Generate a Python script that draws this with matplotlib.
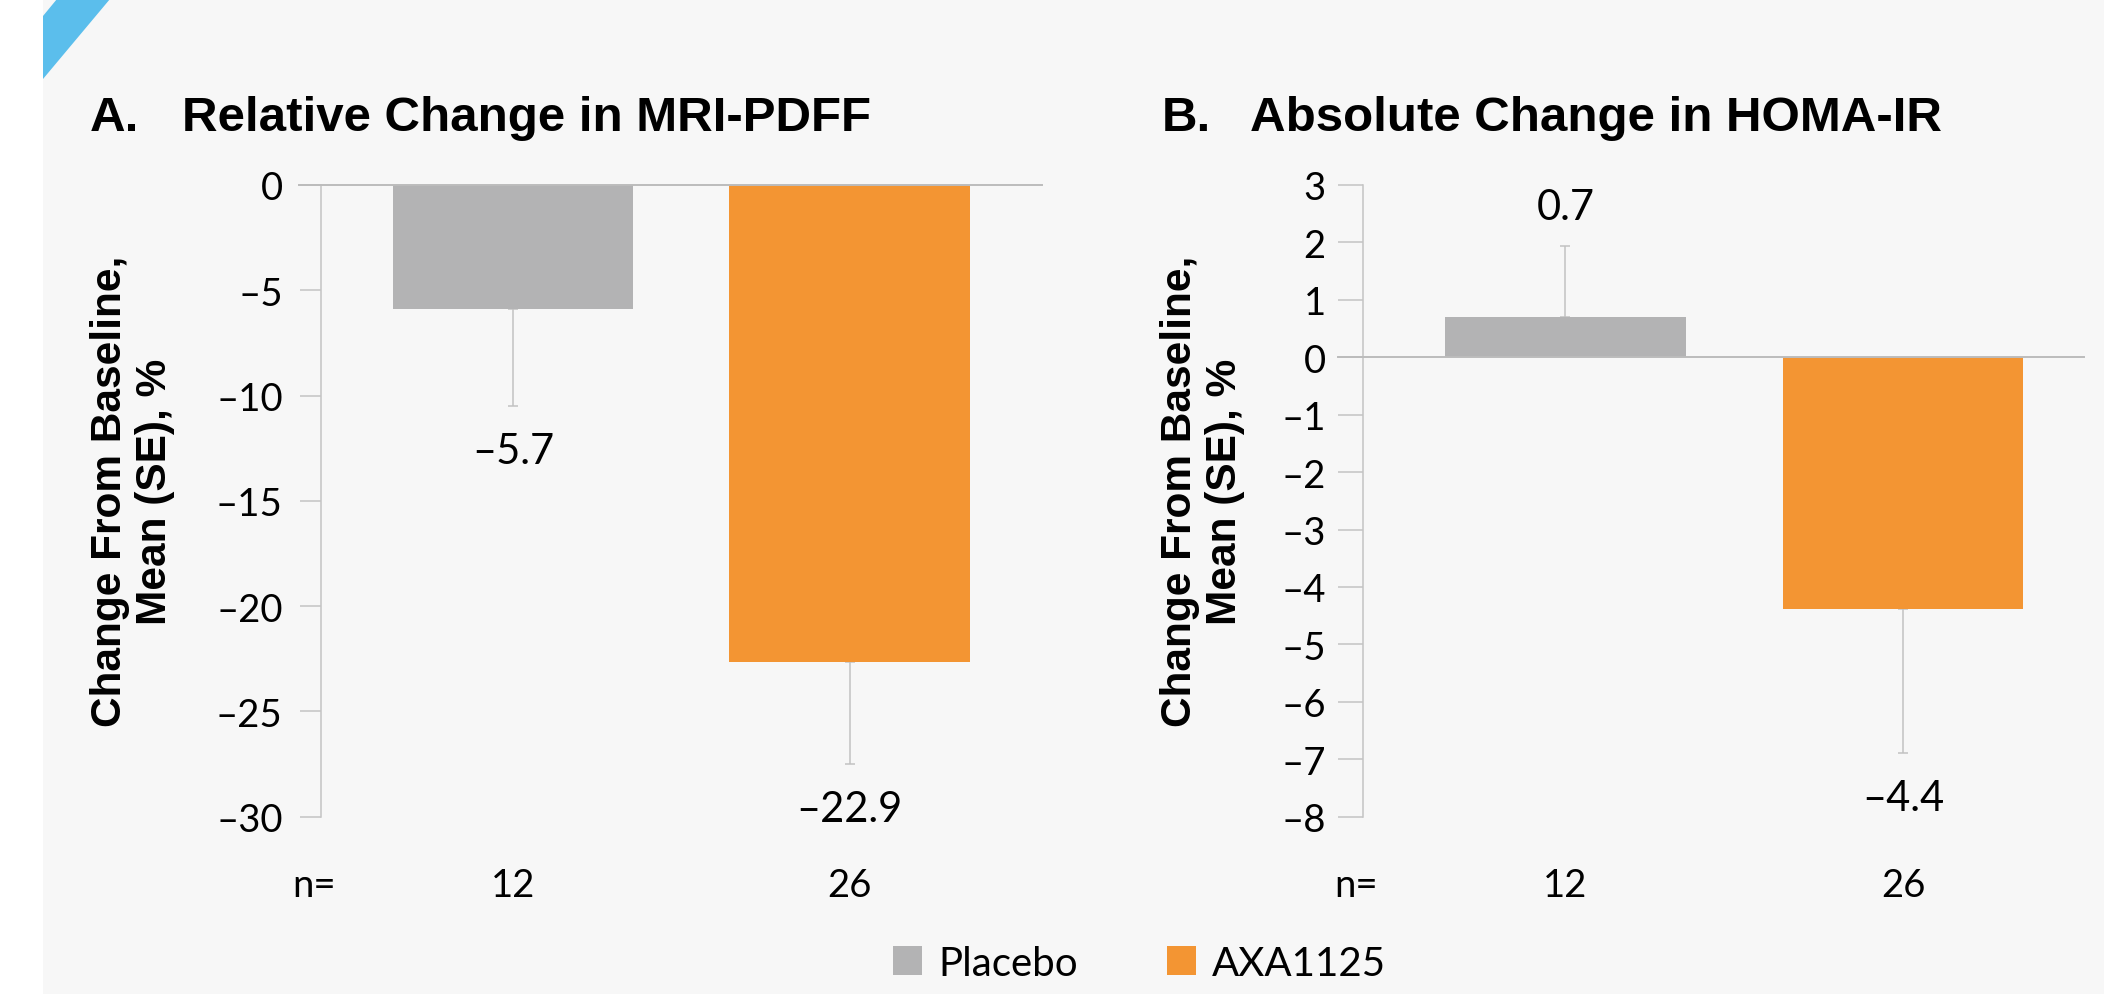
import matplotlib
matplotlib.use("Agg")
import matplotlib.pyplot as plt
from matplotlib.patches import Rectangle, Polygon
from matplotlib.transforms import blended_transform_factory
from matplotlib.ticker import FixedLocator, FuncFormatter

# ---------------- data ----------------
groups = ["Placebo", "AXA1125"]
n_counts = ["12", "26"]
group_colors = ["#b3b3b4", "#f39533"]

panel_letters = ["A.", "B."]
panel_titles = ["Relative Change in MRI-PDFF", "Absolute Change in HOMA-IR"]
ylabel_text = "Change From Baseline,\nMean (SE), %"

pdff_mean = [-5.88, -22.67]
pdff_se = [4.6, 4.82]
pdff_labels = ["–5.7", "–22.9"]
pdff_ticks = [0, -5, -10, -15, -20, -25, -30]

homa_mean = [0.71, -4.39]
homa_se = [1.22, 2.5]
homa_labels = ["0.7", "–4.4"]
homa_ticks = [3, 2, 1, 0, -1, -2, -3, -4, -5, -6, -7, -8]

# ---------------- style ----------------
W, H = 2104, 995
BG = "#f7f7f7"
AXCOL = "#c4c4c4"
TXT = "#000000"
LIGHT = ["Lato", "DejaVu Sans"]
BOLD = ["Liberation Sans", "DejaVu Sans"]
NUMW = "normal"

plt.rcParams["font.family"] = LIGHT

fig = plt.figure(figsize=(W / 100, H / 100), dpi=100, facecolor=BG)

def fx(px):
    return px / W

def fy(py):
    return 1 - py / H

# decorative left strip and blue corner stripe
fig.patches.append(Rectangle((0, 0), fx(43), 1, transform=fig.transFigure,
                             facecolor="white", edgecolor="none", zorder=0))
fig.patches.append(Polygon([(fx(57), fy(0)), (fx(110), fy(0)), (fx(43), fy(80)), (fx(43), fy(17))],
                           closed=True, transform=fig.transFigure,
                           facecolor="#5bbeec", edgecolor="none", zorder=1))

panels = [
    dict(rect=(320.5, 1042.0), xlim=(-0.572, 1.572), width=0.715, mean=pdff_mean, se=pdff_se,
         labels=pdff_labels, ticks=pdff_ticks, ylim=(-30, 0), ticklen=15.2, pad=12.0,
         letter_x=89.4, title_x=182.0, ylabel_x=132.5),
    dict(rect=(1363.0, 2084.0), xlim=(-0.599, 1.536), width=0.712, mean=homa_mean, se=homa_se,
         labels=homa_labels, ticks=homa_ticks, ylim=(-8, 3), ticklen=18.3, pad=8.5,
         letter_x=1161.4, title_x=1249.8, ylabel_x=1202.5),
]

top_px, bot_px = 186.0, 817.7

for i, p in enumerate(panels):
    left, right = p["rect"]
    ax = fig.add_axes([fx(left), fy(bot_px), (right - left) / W, (bot_px - top_px) / H])
    ax.set_facecolor("none")
    xs = list(range(len(groups)))
    ax.bar(xs, p["mean"], width=p["width"], color=group_colors, zorder=2)
    lo = [s if m < 0 else 0 for m, s in zip(p["mean"], p["se"])]
    hi = [s if m >= 0 else 0 for m, s in zip(p["mean"], p["se"])]
    ax.errorbar(xs, p["mean"], yerr=[lo, hi], fmt="none", ecolor="#c2c2c2",
                elinewidth=1.1, capsize=3.3, capthick=1.1, zorder=1)
    ax.set_xlim(*p["xlim"])
    ax.set_ylim(*p["ylim"])
    ax.axhline(0, xmin=-p["ticklen"] * 100 / 72 / (right - left), xmax=1,
               color="#bcbcbc", lw=1.4, clip_on=False, zorder=4)
    for s in ["top", "right", "bottom"]:
        ax.spines[s].set_visible(False)
    ax.spines["left"].set_color(AXCOL)
    ax.spines["left"].set_linewidth(1.1)
    ax.set_xticks([])
    ax.yaxis.set_major_locator(FixedLocator(p["ticks"]))
    ax.yaxis.set_major_formatter(FuncFormatter(lambda v, pos: f"{v:g}".replace("-", "–")))
    ax.tick_params(axis="y", length=p["ticklen"], width=1.1, color=AXCOL, pad=p["pad"],
                   labelsize=27.5, labelcolor=TXT)
    for t in ax.get_yticklabels():
        t.set_fontweight(NUMW)

    # value labels
    for x, m, s, lab in zip(xs, p["mean"], p["se"], p["labels"]):
        if m < 0:
            ax.annotate(lab, xy=(x, m - s), xytext=(0, -41), textcoords="offset points",
                        ha="center", va="baseline", fontsize=30, fontweight=NUMW, color=TXT)
        else:
            ax.annotate(lab, xy=(x, m + s), xytext=(0, 20), textcoords="offset points",
                        ha="center", va="baseline", fontsize=30, fontweight=NUMW, color=TXT)

    # n row
    tr = blended_transform_factory(ax.transData, ax.transAxes)
    ny = -(896.7 - bot_px) / (bot_px - top_px)
    ax.text(-0.009, ny, "n=", transform=ax.transAxes, ha="center", va="baseline",
            fontsize=27.5, fontweight=NUMW, color=TXT)
    for x, n in zip(xs, n_counts):
        ax.text(x, ny, n, transform=tr, ha="center", va="baseline",
                fontsize=27.5, fontweight=NUMW, color=TXT)

    # titles
    fig.text(fx(p["letter_x"]), fy(130.7), panel_letters[i], ha="left", va="baseline",
             fontsize=35.5, fontweight="bold", family=BOLD, color=TXT)
    fig.text(fx(p["title_x"]), fy(130.7), panel_titles[i], ha="left", va="baseline",
             fontsize=35.5, fontweight="bold", family=BOLD, color=TXT)
    # y label
    fig.text(fx(p["ylabel_x"]), fy(491.7), ylabel_text, rotation=90, ha="center", va="center",
             multialignment="center", fontsize=30.5, fontweight="bold", family=BOLD,
             color=TXT, linespacing=1.15)

# legend
leg_sq_x = [893.3, 1167.3]
for j, (name, col) in enumerate(zip(groups, group_colors)):
    fig.patches.append(Rectangle((fx(leg_sq_x[j]), fy(975.7)), 28.5 / W, 29 / H,
                                 transform=fig.transFigure, facecolor=col, edgecolor="none"))
    fig.text(fx(leg_sq_x[j] + 45), fy(975.7), name, ha="left", va="baseline",
             fontsize=29, fontweight=NUMW, color=TXT)

fig.savefig("out.png", dpi=100, facecolor=BG)
